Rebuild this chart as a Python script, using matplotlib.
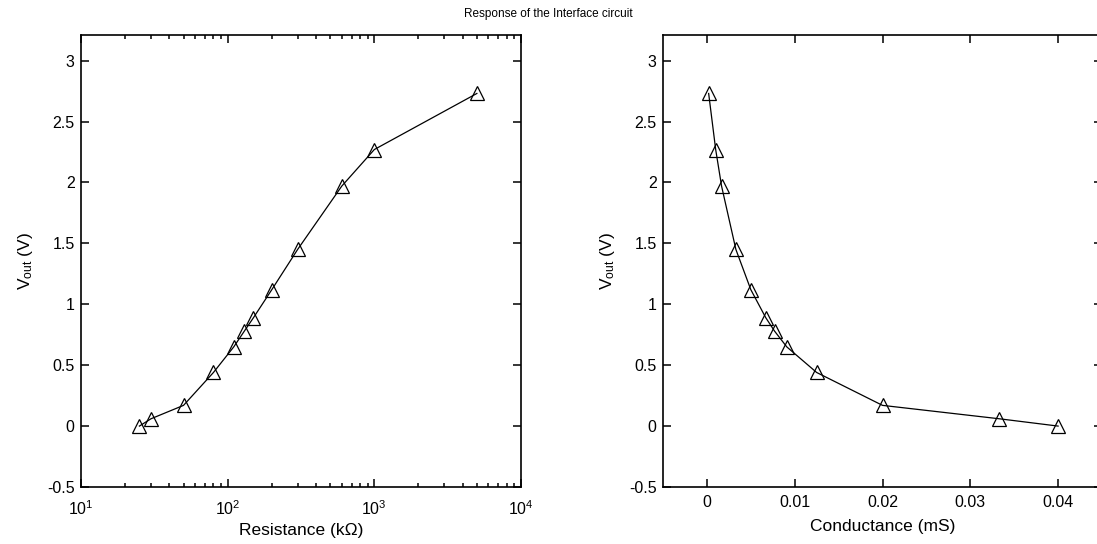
import matplotlib
matplotlib.use("Agg")
import matplotlib.pyplot as plt
from matplotlib.ticker import LogLocator, NullFormatter

plt.rcParams['font.family'] = ['Liberation Sans', 'DejaVu Sans']
plt.rcParams['mathtext.fontset'] = 'custom'
plt.rcParams['mathtext.rm'] = 'Liberation Sans'
plt.rcParams['mathtext.it'] = 'Liberation Sans:italic'
plt.rcParams['mathtext.bf'] = 'Liberation Sans:bold'

# Data
resistance_kohm = [25, 30, 50, 80, 110, 130, 150, 200, 300, 600, 1000, 5000]
conductance_ms = [0.04, 0.0333, 0.02, 0.0125, 0.0091, 0.0077, 0.0067, 0.005,
                  0.0033, 0.00167, 0.001, 0.0002]
vout = [0.0, 0.06, 0.17, 0.44, 0.65, 0.78, 0.89, 1.12, 1.45, 1.97, 2.27, 2.73]

yticks = [-0.5, 0, 0.5, 1, 1.5, 2, 2.5, 3]
ytick_labels = ['-0.5', '0', '0.5', '1', '1.5', '2', '2.5', '3']
xticks_right = [0, 0.01, 0.02, 0.03, 0.04]
xtick_labels_right = ['0', '0.01', '0.02', '0.03', '0.04']

W, H = 1097, 544
fig = plt.figure(figsize=(W / 100, H / 100), dpi=100)

def px_axes(l, t, r, b):
    return fig.add_axes([l / W, 1 - b / H, (r - l) / W, (b - t) / H])

ax1 = px_axes(81, 35, 521, 487)
ax2 = px_axes(663, 35, 1102, 487)

tick_fs = 11.5
label_fs = 12.5
for ax in (ax1, ax2):
    for s in ax.spines.values():
        s.set_linewidth(1.2)
    ax.tick_params(direction='in', which='both', top=True, right=True,
                   labelsize=tick_fs, width=1.1)
    ax.tick_params(axis='y', pad=4.5)
    ax.tick_params(which='major', length=5.5)
    ax.tick_params(which='minor', length=3)
    ax.set_ylim(-0.5, 3.21)
    ax.set_yticks(yticks)
    ax.set_yticklabels(ytick_labels)
    ax.set_ylabel(r'V$_{\mathrm{out}}$ (V)', fontsize=label_fs)
    ax.yaxis.set_label_coords(-0.105, 0.5)

ax1.tick_params(axis='x', pad=8.5)
ax2.tick_params(axis='x', pad=5.5)

ax1.plot(resistance_kohm, vout, color='black', lw=0.9, marker='^',
         ms=10, mfc='none', mec='black', mew=0.9)
ax1.set_xscale('log')
ax1.set_xlim(10, 1e4)
ax1.xaxis.set_major_locator(LogLocator(base=10, numticks=10))
ax1.xaxis.set_minor_locator(LogLocator(base=10, subs=range(2, 10), numticks=20))
ax1.xaxis.set_minor_formatter(NullFormatter())
ax1.set_xlabel('Resistance (k\u03a9)', fontsize=label_fs, labelpad=4)

ax2.plot(conductance_ms, vout, color='black', lw=0.9, marker='^',
         ms=10, mfc='none', mec='black', mew=0.9)
ax2.set_xlim(-0.005, 0.045)
ax2.set_xticks(xticks_right)
ax2.set_xticklabels(xtick_labels_right)
ax2.set_xlabel('Conductance (mS)', fontsize=label_fs, labelpad=6.5)

fig.text(0.5, 1 - 14 / H, 'Response of the Interface circuit', ha='center',
         va='center', fontsize=8.5)

fig.savefig('out.png', dpi=100)
